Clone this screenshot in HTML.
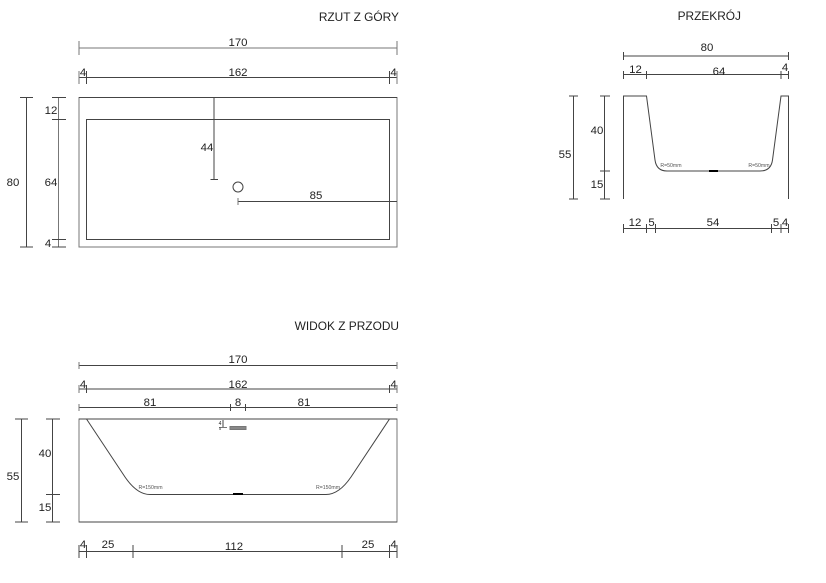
<!DOCTYPE html>
<html><head><meta charset="utf-8"><style>
html,body{margin:0;padding:0;background:#fff;width:826px;height:583px;overflow:hidden}
svg{display:block}
text{font-family:"Liberation Sans",sans-serif;font-size:11.4px;fill:#222;text-anchor:middle}
.t{text-anchor:end;font-size:11.9px}
.s{font-size:5.2px;fill:#555}
path,rect,circle{fill:none;stroke:#444;stroke-width:1}
.g{stroke:#777}
</style></head><body>
<svg width="826" height="583" viewBox="0 0 826 583" xmlns="http://www.w3.org/2000/svg">
<!-- top view -->
<text class="t" x="399" y="21">RZUT Z GÓRY</text>
<rect class="g" x="79" y="97.5" width="318" height="149.5"/>
<path d="M79 97.5H397"/>
<rect x="86.5" y="119.5" width="303" height="120"/>
<path class="g" d="M79 48H397M79 41V55M397 41V55"/>
<path d="M79 77.5H397"/><path class="g" d="M79 71V84M397 71V84"/><path d="M86.5 71V84M389.5 71V84"/>
<path d="M26.5 97.5V247M20 97.5H33M20 247H33"/>
<path class="g" d="M58.5 97.5V247"/><path d="M52 97.5H66M52 119.5H66M52 239.5H66M52 247H66"/>
<path d="M214 97.5V179.5M210.500 179.500H218"/>
<circle cx="238" cy="187" r="5"/>
<path d="M238 201.500H397"/><path class="g" d="M238 198V205"/>
<text x="238" y="46">170</text><text x="238" y="76">162</text>
<text x="83" y="76">4</text><text x="393.500" y="76">4</text>
<text x="51" y="114">12</text><text x="51" y="186">64</text><text x="13" y="186">80</text><text x="48" y="247">4</text>
<text x="207" y="151">44</text><text x="316" y="199">85</text>
<!-- section -->
<text class="t" x="741" y="20">PRZEKRÓJ</text>
<path d="M623.500 56H788.500M623.500 52V60M788.500 52V60"/>
<path d="M623.500 74.500H788.500M623.500 71V79M646.500 71V79M781 71V79M788.500 71V79"/>
<path d="M623.500 199V96H646.500L655 160Q656.500 171 667 171H760Q771 171 772.500 160L781 96H788.500V199"/>
<path d="M709 171H718" style="stroke:#000;stroke-width:2"/>
<path d="M573.500 96V199M569 96H578M569 199H578"/>
<path d="M604.500 96V199M600 96H610M600 171H610M600 199H610"/>
<path d="M623.500 228.500H788.500M623.500 224V233M646.500 224V233M655.500 224V233M771.500 224V233M781 224V233M788.500 224V233"/>
<text x="707" y="51">80</text><text x="635.500" y="73">12</text><text x="719" y="75">64</text><text x="785" y="71">4</text>
<text x="565" y="158">55</text><text x="597" y="134">40</text><text x="597" y="188">15</text>
<text x="635" y="226">12</text><text x="651.500" y="226">5</text><text x="713" y="226">54</text><text x="776" y="226">5</text><text x="785" y="226">4</text>
<text class="s" x="671" y="167">R=50mm</text><text class="s" x="759" y="167">R=50mm</text>
<!-- front -->
<text class="t" x="399" y="330">WIDOK Z PRZODU</text>
<rect class="g" x="79" y="419" width="318" height="103"/>
<path d="M79 419H397M79 522H397"/>
<path d="M86.500 419L125 477Q137 494.500 150 494.500H326Q339 494.500 351 477L389.500 419"/>
<path d="M233 494H243" style="stroke:#000;stroke-width:2"/>
<path d="M79 365.500H397"/><path class="g" d="M79 362V369M397 362V369"/>
<path d="M79 389H397"/><path class="g" d="M79 385V393M397 385V393"/><path d="M86.500 385V393M389.500 385V393"/>
<path d="M79 407.500H397"/><path class="g" d="M79 404V411M397 404V411"/><path d="M230.500 404V411M245.500 404V411"/>
<path d="M21.500 419V522M15 419H28M15 522H28"/>
<path d="M52.500 419V522M46 419H60M46 494.500H60M46 522H60"/>
<path d="M79 551.500H397M79 545V558M86.500 545V558M133 545V558M342 545V558M389.500 545V558M397 545V558"/>
<path d="M223 420V428"/><path class="g" d="M219 427.500H227"/>
<rect x="230" y="426.500" width="16" height="3" style="fill:#888;stroke:#777"/>
<text x="238" y="363">170</text><text x="238" y="388">162</text><text x="83" y="388">4</text><text x="393.500" y="388">4</text>
<text x="150" y="406">81</text><text x="238" y="406">8</text><text x="304" y="406">81</text>
<text x="13" y="480">55</text><text x="45" y="457">40</text><text x="45" y="511">15</text>
<text x="83" y="548">4</text><text x="108" y="548">25</text><text x="234" y="550">112</text><text x="368" y="548">25</text><text x="393.500" y="548">4</text>
<text class="s" x="150.500" y="489">R=150mm</text><text class="s" x="328" y="489">R=150mm</text>
<text x="220" y="425" style="font-size:5px">4</text><text x="220" y="430" style="font-size:4px">5</text>
</svg>
</body></html>
